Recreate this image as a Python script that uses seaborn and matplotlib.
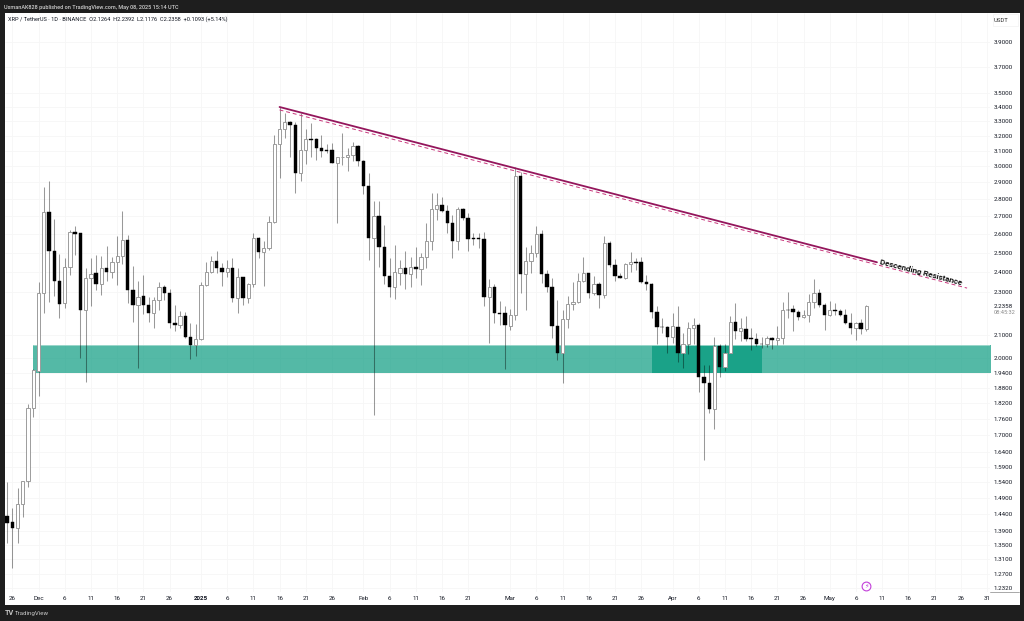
import numpy as np
import pandas as pd
import matplotlib
matplotlib.use("Agg")
import matplotlib.pyplot as plt
import matplotlib.dates as mdates
from matplotlib.lines import Line2D
from matplotlib.patches import Rectangle
from matplotlib.ticker import NullFormatter, NullLocator
import seaborn as sns

start_date = "2024-11-25"
opens = [1.434,1.415,1.399,1.471,1.543,1.802,1.949,2.295,2.727,2.510,
         2.357,2.247,2.425,2.610,2.604,2.214,2.372,2.394,2.339,2.421,
         2.402,2.450,2.484,2.566,2.312,2.241,2.281,2.240,2.203,2.263,
         2.324,2.298,2.156,2.145,2.188,2.094,2.058,2.083,2.334,2.402,
         2.455,2.421,2.399,2.421,2.273,2.374,2.273,2.341,2.577,2.505,
         2.523,2.669,3.145,3.244,3.292,3.271,2.960,3.107,3.178,3.178,
         3.120,3.107,3.107,3.023,3.057,3.057,3.070,3.130,3.035,2.880,
         2.581,2.702,2.528,2.382,2.326,2.397,2.420,2.392,2.425,2.415,
         2.476,2.561,2.740,2.763,2.731,2.660,2.564,2.740,2.689,2.577,
         2.577,2.573,2.279,2.324,2.200,2.200,2.143,2.192,2.941,2.389,
         2.455,2.500,2.601,2.389,2.327,2.140,2.024,2.172,2.243,2.252,
         2.357,2.394,2.295,2.339,2.285,2.549,2.436,2.380,2.372,2.440,
         2.450,2.450,2.350,2.342,2.208,2.138,2.138,2.091,2.139,2.024,
         2.062,2.131,2.148,1.922,1.897,1.797,2.051,1.966,2.022,2.161,
         2.117,2.130,2.087,2.084,2.062,2.060,2.088,2.079,2.087,2.217,
         2.219,2.205,2.181,2.193,2.254,2.295,2.238,2.192,2.216,2.212,
         2.190,2.156,2.131,2.156,2.1264]
highs = [1.540,1.460,1.523,1.545,1.817,1.955,2.351,2.873,2.910,2.683,
         2.493,2.470,2.623,2.646,2.606,2.421,2.472,2.488,2.482,2.535,
         2.476,2.590,2.731,2.595,2.433,2.355,2.387,2.279,2.279,2.350,
         2.334,2.314,2.240,2.211,2.208,2.154,2.151,2.351,2.453,2.482,
         2.510,2.448,2.462,2.470,2.420,2.377,2.346,2.604,2.585,2.563,
         2.702,3.205,3.400,3.356,3.303,3.296,3.360,3.246,3.285,3.187,
         3.205,3.145,3.151,3.061,3.218,3.120,3.157,3.138,3.040,2.960,
         2.786,2.790,2.651,2.474,2.542,2.462,2.510,2.476,2.528,2.500,
         2.660,2.838,2.834,2.810,2.765,2.707,2.755,2.749,2.717,2.607,
         2.607,2.613,2.365,2.340,2.257,2.232,2.219,2.997,2.967,2.531,
         2.541,2.646,2.623,2.411,2.368,2.263,2.216,2.283,2.349,2.394,
         2.476,2.396,2.380,2.351,2.590,2.563,2.467,2.394,2.445,2.505,
         2.470,2.476,2.385,2.344,2.232,2.177,2.142,2.200,2.235,2.110,
         2.161,2.177,2.156,1.972,1.974,2.091,2.062,2.062,2.188,2.247,
         2.177,2.188,2.131,2.110,2.091,2.097,2.091,2.142,2.255,2.301,
         2.240,2.216,2.216,2.292,2.363,2.314,2.250,2.258,2.250,2.219,
         2.219,2.200,2.161,2.172,2.2392]
lows = [1.355,1.285,1.355,1.431,1.525,1.768,1.847,2.203,2.254,2.280,
        2.178,2.225,2.385,2.488,2.003,1.902,2.235,2.311,2.287,2.357,
        2.368,2.335,2.441,2.247,2.161,1.961,2.196,2.161,2.131,2.216,
        2.263,2.131,2.117,2.131,2.087,1.997,2.012,2.080,2.330,2.394,
        2.397,2.330,2.377,2.255,2.203,2.238,2.247,2.327,2.474,2.332,
        2.514,2.660,2.925,3.183,3.061,2.834,2.910,3.014,3.061,3.040,
        3.057,3.083,3.019,2.660,3.008,2.970,3.035,3.002,2.830,2.462,
        1.775,2.425,2.340,2.279,2.268,2.335,2.314,2.324,2.372,2.334,
        2.418,2.514,2.679,2.727,2.607,2.470,2.514,2.679,2.510,2.541,
        2.523,2.235,2.068,2.154,2.147,1.955,2.124,2.169,2.298,2.216,
        2.394,2.479,2.346,2.303,2.087,1.994,1.900,2.131,2.216,2.247,
        2.351,2.271,2.287,2.225,2.271,2.428,2.357,2.368,2.363,2.402,
        2.411,2.344,2.311,2.177,2.062,2.110,2.024,2.068,1.987,1.961,
        2.018,2.062,1.864,1.614,1.781,1.725,1.925,1.948,2.022,2.083,
        2.073,2.073,2.036,2.052,2.045,2.048,2.039,2.058,2.062,2.177,
        2.117,2.169,2.177,2.161,2.224,2.229,2.124,2.188,2.193,2.187,
        2.151,2.106,2.080,2.106,2.1176]
closes = [1.414,1.398,1.471,1.545,1.802,1.952,2.295,2.727,2.510,2.357,
          2.244,2.425,2.610,2.602,2.214,2.372,2.392,2.340,2.423,2.402,
          2.450,2.484,2.566,2.312,2.241,2.279,2.240,2.203,2.263,2.324,
          2.298,2.156,2.147,2.188,2.094,2.058,2.083,2.334,2.402,2.455,
          2.421,2.401,2.421,2.273,2.374,2.273,2.341,2.577,2.505,2.523,
          2.669,3.145,3.244,3.292,3.273,2.960,3.107,3.176,3.174,3.120,
          3.100,3.100,3.023,3.057,3.060,3.070,3.130,3.035,2.880,2.581,
          2.702,2.528,2.382,2.326,2.399,2.420,2.392,2.425,2.416,2.476,
          2.561,2.740,2.763,2.731,2.660,2.564,2.740,2.689,2.573,2.575,
          2.573,2.279,2.324,2.200,2.198,2.147,2.192,2.941,2.389,2.455,
          2.500,2.601,2.389,2.327,2.140,2.024,2.172,2.243,2.252,2.357,
          2.394,2.295,2.339,2.287,2.549,2.436,2.382,2.372,2.440,2.450,
          2.448,2.350,2.342,2.208,2.138,2.135,2.091,2.142,2.024,2.062,
          2.131,2.145,1.922,1.897,1.797,2.051,1.966,2.022,2.161,2.120,
          2.131,2.084,2.085,2.062,2.060,2.087,2.080,2.087,2.216,2.214,
          2.205,2.181,2.193,2.254,2.295,2.238,2.192,2.216,2.212,2.190,
          2.156,2.131,2.156,2.127,2.2358]

price_ticks = [3.9,3.7,3.5,3.4,3.3,3.2,3.1,3.0,2.9,2.8,2.7,2.6,2.5,2.4,2.3,2.1,2.0,
               1.94,1.88,1.82,1.76,1.70,1.64,1.59,1.54,1.49,1.44,1.39,1.35,1.31,1.27,1.232]
date_ticks = ["2024-11-26","2024-12-01","2024-12-06","2024-12-11","2024-12-16","2024-12-21","2024-12-26",
              "2025-01-01","2025-01-06","2025-01-11","2025-01-16","2025-01-21","2025-01-26",
              "2025-02-01","2025-02-06","2025-02-11","2025-02-16","2025-02-21",
              "2025-03-01","2025-03-06","2025-03-11","2025-03-16","2025-03-21","2025-03-26",
              "2025-04-01","2025-04-06","2025-04-11","2025-04-16","2025-04-21","2025-04-26",
              "2025-05-01","2025-05-06","2025-05-11","2025-05-16","2025-05-21","2025-05-26","2025-05-31"]
date_labels = ["26","Dec","6","11","16","21","26","2025","6","11","16","21","26","Feb","6","11","16","21",
               "Mar","6","11","16","21","26","Apr","6","11","16","21","26","May","6","11","16","21","26","31"]

zone_dates = ["2024-11-29 23:00","2025-06-05 00:00"]
zone_low, zone_high = 1.9405, 2.058
inner_zone_dates = ["2025-03-28 02:00","2025-04-18 02:00"]
solid_dates = ["2025-01-16 00:00","2025-05-10 00:00"]
solid_prices = [3.40,2.45]
dash_dates = ["2025-01-16 00:00","2025-05-27 05:00"]
dash_prices = [3.379,2.32]

W, H = 1024, 621
sns.set_theme(style="white")
plt.rcParams['font.family'] = ['Roboto', 'DejaVu Sans']

fig = plt.figure(figsize=(W/100, H/100), dpi=100, facecolor="#1e1e1e")
fig.add_artist(Rectangle((5/W, 1-604.5/H), (1019.5-5)/W, (604.5-12.8)/H, transform=fig.transFigure,
                         facecolor="white", edgecolor="none", zorder=0))
L, R, T, B = 5, 990, 13, 592
ax = fig.add_axes([L/W, 1-B/H, (R-L)/W, (B-T)/H])
ax.set_facecolor("none")

df = pd.DataFrame({"date": pd.date_range(start_date, periods=len(opens)),
                   "open": opens, "high": highs, "low": lows, "close": closes})
df["x"] = mdates.date2num(df["date"])
x0 = df["x"].iloc[0]

ax.set_yscale("log")
ax.set_xlim(x0-0.40, x0+187.58)
ax.set_ylim(1.2216, 4.146)

def dn(values):
    return mdates.date2num(pd.to_datetime(values, format="ISO8601"))

# zones
ax.fill_between(dn(zone_dates), zone_low, zone_high, color="#14a085", alpha=0.73, lw=0, zorder=1)
ax.fill_between(dn(inner_zone_dates), zone_low, zone_high, color="#14a085", alpha=0.9, lw=0, zorder=1.1)
ax.plot(dn(zone_dates), [zone_high, zone_high], color="#a8dcd2", lw=0.6, zorder=1.2)

# candles
ax.vlines(df["x"], df["low"], df["high"], color="black", alpha=0.40, lw=0.75, zorder=2)
up = df[df["close"] >= df["open"]]
down = df[df["close"] < df["open"]]
ax.bar(up["x"], up["close"]-up["open"], bottom=up["open"], width=0.62,
       facecolor="white", edgecolor="#9c9c9c", lw=0.7, zorder=3)
ax.bar(down["x"], down["open"]-down["close"], bottom=down["close"], width=0.66,
       facecolor="black", edgecolor="black", lw=0.3, zorder=3)

# trend lines
solid = pd.DataFrame({"x": dn(solid_dates), "y": solid_prices})
dash = pd.DataFrame({"x": dn(dash_dates), "y": dash_prices})
sns.lineplot(data=solid, x="x", y="y", ax=ax, color="#94165c", lw=1.3, zorder=5, estimator=None)
sns.lineplot(data=dash, x="x", y="y", ax=ax, color="#c8367c", lw=0.7, zorder=4, estimator=None,
             linestyle=(0, (4, 3)))
ax.set_xlabel("")
ax.set_ylabel("")

def px(x, y):
    return x/W, 1-y/H

fig.text(*px(921, 272.7), "Descending Resistance", rotation=-14.5, rotation_mode="anchor",
         ha="center", va="center", fontsize=5.9, color="#111111", fontweight="bold", zorder=6,
         family="Roboto")

# event marker
ax.scatter(dn(["2025-05-08"]), [1.237], s=40, facecolor="white", edgecolor="#c23fd9", lw=0.8, zorder=6)
ax.text(dn(["2025-05-08"])[0], 1.237, "\u26a1", family="DejaVu Sans", fontsize=4.6, color="#c23fd9",
        ha="center", va="center", zorder=7)

# axes
for s in ax.spines.values():
    s.set_visible(False)
ax.yaxis.tick_right()
ax.yaxis.set_major_locator(plt.FixedLocator(price_ticks))
ax.yaxis.set_minor_locator(NullLocator())
ax.yaxis.set_minor_formatter(NullFormatter())
ax.set_yticklabels([f"{p:.4f}" for p in price_ticks])
ax.set_xticks(dn(date_ticks))
ax.set_xticklabels(date_labels)
ax.tick_params(axis="y", length=0, pad=2.6, labelsize=4.5, labelcolor="#131722")
ax.tick_params(axis="x", length=0, pad=3.2, labelsize=4.5, labelcolor="#131722")
for t in ax.get_xticklabels():
    if t.get_text() == "2025":
        t.set_fontweight("bold")
ax.grid(True, color="#f6f6f6", lw=0.6, zorder=0)
ax.set_axisbelow(True)

# axis furniture
fig.add_artist(Line2D([990/W, 1019/W], [1-592/H]*2, color="#9a9a9a", lw=0.6, transform=fig.transFigure))
fig.text(*px(1001, 20), "USDT", ha="center", va="center", fontsize=4.3, color="#333333")
fig.add_artist(Rectangle((993/W, 1-25.5/H), 25/W, 12/H, transform=fig.transFigure,
                         facecolor="none", edgecolor="#f2f2f2", lw=0.5))
fig.text(*px(994, 306), "2.2358", ha="left", va="center", fontsize=4.5, color="#131722")
fig.text(*px(994, 312.5), "08:45:32", ha="left", va="center", fontsize=4.1, color="#8a8a8a")

# header / footer / legend
fig.text(*px(4.5, 7), "UsmanAK828 published on TradingView.com, May 08, 2025 15:14 UTC",
         ha="left", va="center", fontsize=3.95, color="#d0d0d0", fontweight="medium")
fig.text(*px(7.7, 19), "XRP / TetherUS \u00b7 1D \u00b7 BINANCE  O2.1264  H2.2392  L2.1176  C2.2358  +0.1093 (+5.14%)",
         ha="left", va="center", fontsize=4.05, color="#131722")
fig.text(*px(4.5, 613.3), "TV", ha="left", va="center", fontsize=5.2, fontweight="bold", color="#c8c8c8")
fig.text(*px(15, 613.3), "TradingView", ha="left", va="center", fontsize=4.4, color="#c8c8c8")

fig.savefig("out.png", dpi=100, facecolor=fig.get_facecolor())
